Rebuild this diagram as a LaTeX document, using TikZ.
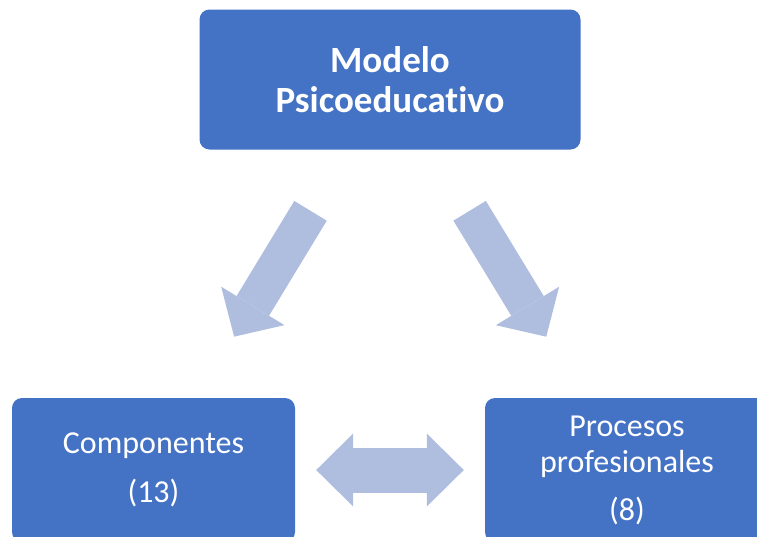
\documentclass[tikz,border=0pt]{standalone}
\usepackage{fontspec}
\setmainfont{Carlito}[Ligatures=NoCommon]
\usetikzlibrary{arrows.meta}
\definecolor{boxblue}{HTML}{4472C4}
\definecolor{arrowblue}{RGB}{175,189,223}

\begin{document}
\begin{tikzpicture}[x=1pt, y=-1pt,
    blockbox/.style={fill=boxblue, rounded corners=10pt, text=white, align=center,
      inner sep=0pt, minimum height=144pt, font={\fontsize{32}{36}\selectfont}},
    bigarrow/.style={draw=arrowblue, line width=38pt, shorten <=71.5pt, shorten >=71.5pt,
      -{Triangle[line width=0pt, width=74pt, length=36pt]}},
    dblarrow/.style={draw=arrowblue, line width=45pt, shorten <=21pt, shorten >=21pt,
      {Triangle[line width=0pt, width=73pt, length=37pt]}-{Triangle[line width=0pt, width=73pt, length=37pt]}}]
    \useasboundingbox (0,0) rectangle (757,536);
    \node[blockbox, minimum width=381pt, minimum height=140pt,
      font={\fontsize{37}{39.5}\selectfont\bfseries}] (modelo) at (390,79.5) {Modelo\\Psicoeducativo};
    \node[blockbox, minimum width=283pt] (comp) at (153.5,470) {Componentes\\[13pt](13)};
    \node[blockbox, minimum width=284pt] (proc) at (627,470) {Procesos\\profesionales\\[12pt](8)};
    \draw[bigarrow] (modelo) -- (comp);
    \draw[bigarrow] (modelo) -- (proc);
    \draw[dblarrow] (comp) -- (proc);
\end{tikzpicture}
\end{document}
